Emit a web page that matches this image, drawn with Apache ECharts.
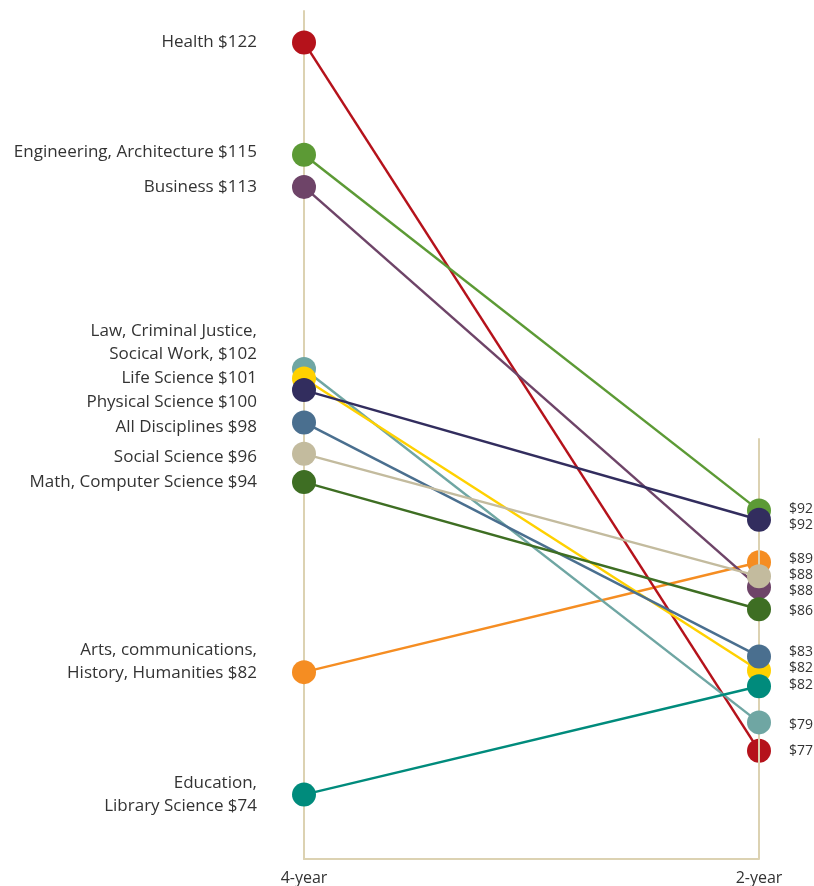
<!DOCTYPE html>
<html>
<head>
<meta charset="utf-8">
<script src="https://cdn.jsdelivr.net/npm/echarts@6/dist/echarts.min.js"></script>
<style>html,body{margin:0;padding:0;background:#fff;}#c{width:814px;height:886px;}</style>
</head>
<body>
<div id="c"></div>
<script>
// ---- data ----
const periods = ['4-year', '2-year'];
const fields = ['Arts', 'Health', 'Engineering', 'Business', 'Law', 'Life', 'Physical', 'All', 'Social', 'Math', 'Education'];
const leftLabels = [
  'Arts, communications,\nHistory, Humanities $82',
  'Health $122',
  'Engineering, Architecture $115',
  'Business $113',
  'Law, Criminal Justice,\nSocical Work, $102',
  'Life Science $101',
  'Physical Science $100',
  'All Disciplines $98',
  'Social Science $96',
  'Math, Computer Science $94',
  'Education,\nLibrary Science $74'
];
const rightLabels = ['$89', '$77', '$92', '$88', '$79', '$82', '$92', '$83', '$88', '$86', '$82'];
const fourYear = [81.9, 122, 114.85, 112.8, 101.2, 100.6, 99.86, 97.8, 95.8, 94.0, 74.1];
const twoYear = [88.9, 76.9, 92.2, 87.3, 78.7, 82.0, 91.6, 82.9, 88.0, 85.9, 81.0];

// ---- style ----
const colors = ['#f58d22', '#b5121b', '#5c9a35', '#6e4468', '#6fa6a3', '#ffd100', '#322d5e', '#4a6f8f', '#c3bb9e', '#3e6e23', '#008b7c'];
const leftNudge = [-10, 0, -3, 0, -26, 0, 12, 5, 3, 0, 0];
const rightNudge = [-3, 0, -1, 4, 3, -3, 5, -4, -1, 2, -1];
const axisColor = '#dcd2b2';
const textColor = '#333333';
const rightAxisTop = 96.8;

const series = fields.map((f, i) => ({
  name: f,
  type: 'line',
  data: [
    { value: fourYear[i], label: { show: true, position: 'left', distance: 35, formatter: leftLabels[i], offset: [0, leftNudge[i]], align: 'right',
      fontFamily: 'Open Sans', fontSize: 17, lineHeight: 23, color: textColor } },
    { value: twoYear[i], label: { show: true, position: 'right', distance: 18, formatter: rightLabels[i], offset: [0, rightNudge[i]],
      fontFamily: '"Liberation Sans Narrow", "Open Sans"', fontSize: 14, color: textColor } }
  ],
  symbol: 'circle',
  symbolSize: 24,
  color: colors[i],
  lineStyle: { width: 2.5, color: colors[i] },
  itemStyle: { color: colors[i] },
  emphasis: { disabled: true },
  animation: false,
  z: 3 + i
}));

series.push({
  type: 'line',
  data: [],
  silent: true,
  markLine: {
    silent: true,
    symbol: ['none', 'none'],
    label: { show: false },
    lineStyle: { color: axisColor, width: 2, type: 'solid' },
    data: [[{ coord: [periods[1], 70] }, { coord: [periods[1], rightAxisTop] }]],
    animation: false
  },
  z: 1
});

const chart = echarts.init(document.getElementById('c'), null, { renderer: 'canvas' });
chart.setOption({
  animation: false,
  grid: { left: 304, right: 55, top: 11, bottom: 27, containLabel: false },
  xAxis: {
    type: 'category',
    data: periods,
    boundaryGap: false,
    axisLine: { lineStyle: { color: axisColor, width: 2 } },
    axisTick: { show: false },
    axisLabel: { color: textColor, fontFamily: 'Open Sans', fontSize: 16, margin: 11 },
    splitLine: { show: false }
  },
  yAxis: {
    type: 'value',
    min: 70,
    max: 124,
    axisLine: { show: true, lineStyle: { color: axisColor, width: 2 } },
    axisTick: { show: false },
    axisLabel: { show: false },
    splitLine: { show: false }
  },
  series: series
});
</script>
</body>
</html>
